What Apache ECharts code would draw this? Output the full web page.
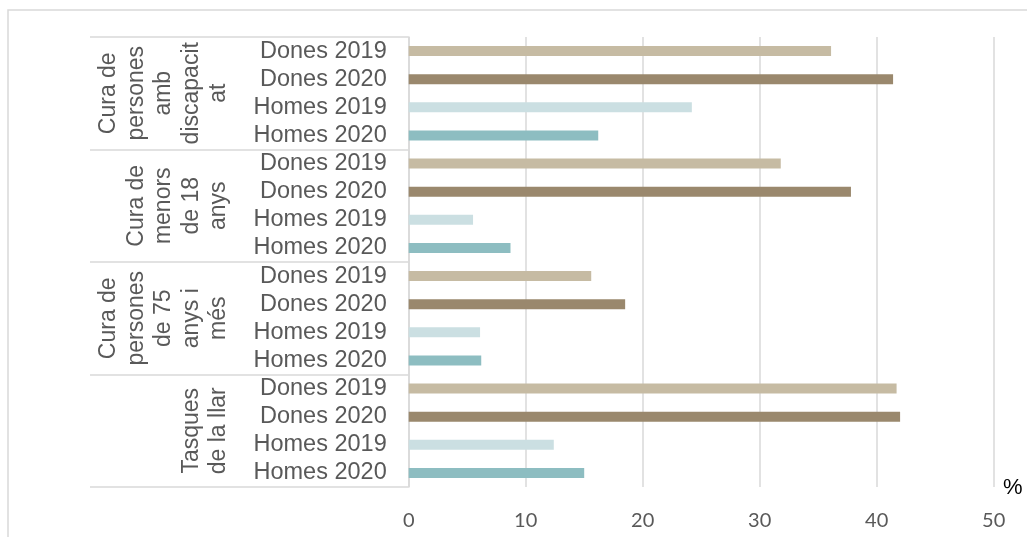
<!DOCTYPE html>
<html>
<head>
<meta charset="utf-8">
<script src="https://cdn.jsdelivr.net/npm/echarts@6/dist/echarts.min.js"></script>
<style>
  html, body { margin: 0; padding: 0; background: #fff; }
  #chart { width: 1027px; height: 537px; }
</style>
</head>
<body>
<div id="chart"></div>
<script>
// Activity groups (wrapped as they appear on the axis) and the rows inside each group
const groupLabels = [
  'Cura de\npersones\namb\ndiscapacit\nat',
  'Cura de\nmenors\nde 18\nanys',
  'Cura de\npersones\nde 75\nanys i\nmés',
  'Tasques\nde la llar'
];
const rowLabels = ['Dones 2019', 'Dones 2020', 'Homes 2019', 'Homes 2020'];

// Percentages per row, one value per group (same order as groupLabels)
const dones2019 = [36.1, 31.8, 15.6, 41.7];
const dones2020 = [41.4, 37.8, 18.5, 42.0];
const homes2019 = [24.2, 5.5, 6.1, 12.4];
const homes2020 = [16.2, 8.7, 6.2, 15.0];

const xTicks = [0, 10, 20, 30, 40, 50];
const rowColors = ['#c6bba3', '#9a886d', '#cbdfe2', '#8dbdc1'];

const rowSeries = [dones2019, dones2020, homes2019, homes2020];

// Flatten into one category per bar: group-major, row-minor
const categories = [];
const values = [];
groupLabels.forEach((g, gi) => {
  rowLabels.forEach((r, ri) => {
    categories.push(gi + '|' + r);
    values.push({ value: rowSeries[ri][gi], itemStyle: { color: rowColors[ri] } });
  });
});

const textColor = '#595959';
const lineColor = '#d9d9d9';

const chart = echarts.init(document.getElementById('chart'), null, { renderer: 'canvas' });
chart.setOption({
  animation: false,
  backgroundColor: '#ffffff',
  grid: { left: 408.7, right: 33.3, top: 37, bottom: 50, containLabel: false },
  xAxis: {
    type: 'value',
    min: xTicks[0],
    max: xTicks[xTicks.length - 1],
    interval: xTicks[1] - xTicks[0],
    axisLine: { show: false },
    axisTick: { show: false },
    splitLine: { show: true, lineStyle: { color: lineColor, width: 1.5 } },
    axisLabel: {
      color: textColor,
      fontFamily: 'Lato',
      fontSize: 20,
      margin: 24
    }
  },
  yAxis: [
    {
      type: 'category',
      inverse: true,
      data: categories,
      position: 'left',
      axisLine: { show: true, lineStyle: { color: lineColor, width: 1.5 } },
      axisTick: { show: false },
      splitLine: { show: false },
      axisLabel: {
        interval: 0,
        color: textColor,
        fontFamily: 'Liberation Sans',
        fontSize: 23.5,
        margin: 22,
        formatter: v => v.split('|')[1]
      }
    },
    {
      type: 'category',
      inverse: true,
      data: groupLabels,
      position: 'left',
      axisLine: { show: false },
      axisTick: { show: true, interval: 0, length: 318.7, lineStyle: { color: lineColor, width: 1.5 } },
      splitLine: { show: false },
      axisLabel: {
        interval: 0,
        rotate: 90,
        color: textColor,
        fontFamily: 'Liberation Sans',
        fontSize: 23,
        lineHeight: 27.5,
        margin: 176,
        align: 'center'
      }
    }
  ],
  graphic: [
    {
      type: 'rect',
      silent: true,
      shape: { x: 8, y: 10, width: 1100, height: 600 },
      style: { fill: null, stroke: lineColor, lineWidth: 1.5 }
    },
    {
      type: 'text',
      left: 1003,
      top: 477,
      style: { text: '%', fill: '#000000', font: '22px "Liberation Sans"' }
    }
  ],
  series: [
    {
      type: 'bar',
      yAxisIndex: 0,
      barWidth: 10,
      data: values
    }
  ]
});
</script>
</body>
</html>
